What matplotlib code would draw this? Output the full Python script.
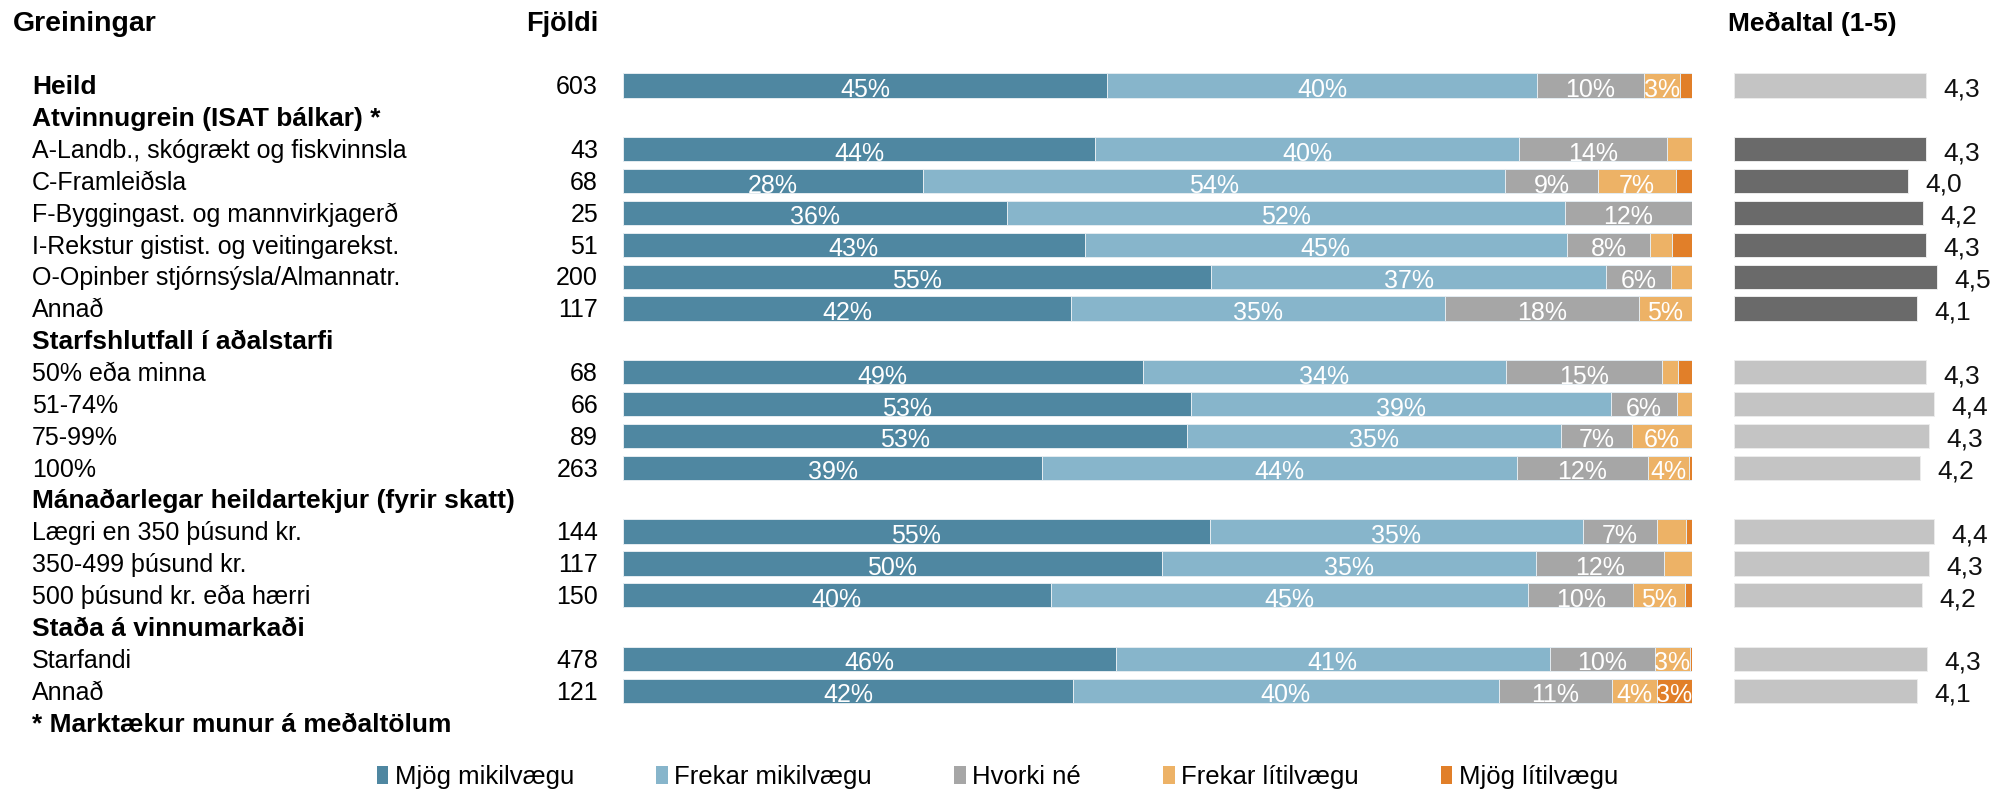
import numpy as np
import matplotlib
matplotlib.use("Agg")
import matplotlib.pyplot as plt
from matplotlib.patches import Patch
from matplotlib.transforms import blended_transform_factory

plt.rcParams["font.family"] = ["Liberation Sans", "DejaVu Sans"]

''' Data '''
row_labels = [
    "Heild",
    "Atvinnugrein (ISAT bálkar) *",
    "A-Landb., skógrækt og fiskvinnsla",
    "C-Framleiðsla",
    "F-Byggingast. og mannvirkjagerð",
    "I-Rekstur gistist. og veitingarekst.",
    "O-Opinber stjórnsýsla/Almannatr.",
    "Annað",
    "Starfshlutfall í aðalstarfi",
    "50% eða minna",
    "51-74%",
    "75-99%",
    "100%",
    "Mánaðarlegar heildartekjur (fyrir skatt)",
    "Lægri en 350 þúsund kr.",
    "350-499 þúsund kr.",
    "500 þúsund kr. eða hærri",
    "Staða á vinnumarkaði",
    "Starfandi",
    "Annað",
    "* Marktækur munur á meðaltölum",
]
bold_rows = [0, 1, 8, 13, 17, 20]

fjoldi = [603, None, 43, 68, 25, 51, 200, 117, None, 68, 66, 89, 263,
          None, 144, 117, 150, None, 478, 121, None]

mjog_mikil = [45.3, None, 44.2, 28.1, 35.9, 43.2, 55.0, 41.9, None, 48.6, 53.1, 52.8, 39.2,
              None, 54.9, 50.4, 40.0, None, 46.1, 42.1, None]
frekar_mikil = [40.2, None, 39.6, 54.4, 52.2, 45.1, 37.0, 35.0, None, 34.0, 39.3, 34.9, 44.4,
                None, 34.9, 35.0, 44.7, None, 40.6, 39.8, None]
hvorki = [10.0, None, 13.9, 8.7, 11.9, 7.8, 6.0, 18.1, None, 14.6, 6.2, 6.7, 12.3,
          None, 6.9, 12.0, 9.8, None, 9.8, 10.6, None]
frekar_litil = [3.4, None, 2.3, 7.3, 0.0, 2.0, 2.0, 5.0, None, 1.5, 1.4, 5.6, 3.8,
                None, 2.7, 2.6, 4.8, None, 3.3, 4.2, None]
mjog_litil = [1.1, None, 0.0, 1.5, 0.0, 1.9, 0.0, 0.0, None, 1.3, 0.0, 0.0, 0.3,
              None, 0.6, 0.0, 0.7, None, 0.2, 3.3, None]

medaltal = [4.30, None, 4.30, 3.99, 4.24, 4.30, 4.49, 4.14, None, 4.30, 4.44, 4.34, 4.19,
            None, 4.44, 4.34, 4.22, None, 4.32, 4.14, None]
# rows in the group with a significant difference get the dark mean bar
marktaekt = [2, 3, 4, 5, 6, 7]

flokkar = ["Mjög mikilvægu", "Frekar mikilvægu", "Hvorki né", "Frekar lítilvægu", "Mjög lítilvægu"]
litir = ["#4f87a1", "#87b5cb", "#a6a6a6", "#edb266", "#e17f29"]

''' Layout '''
W, H = 1995, 795
fig = plt.figure(figsize=(W / 100, H / 100), dpi=100)

n_rows = len(row_labels)
row0, row_last = 85.5, 722.7
step = (row_last - row0) / (n_rows - 1)
y_top = row0 - step / 2
y_bot = row_last + step / 2
ax_bottom = 1 - y_bot / H
ax_height = (y_bot - y_top) / H

ax = fig.add_axes([623 / W, ax_bottom, 1069 / W, ax_height])
ax_m = fig.add_axes([1734 / W, ax_bottom, 233 / W, ax_height])
for a in (ax, ax_m):
    a.set_ylim(n_rows - 0.5, -0.5)
    a.axis("off")
ax.set_xlim(0, 100)
ax_m.set_xlim(1, 5)

bar_h = 0.76
# baseline offsets (in rows) so the caps sit centred on the bars
lab_off = 8.8 / step
pct_off = 11.5 / step
mean_off = 10.8 / step

''' Stacked bars '''
series = [mjog_mikil, frekar_mikil, hvorki, frekar_litil, mjog_litil]
for i in range(n_rows):
    if series[0][i] is None:
        continue
    left = 0.0
    for vals, col in zip(series, litir):
        v = vals[i]
        if v > 0:
            ax.barh(i, v, left=left, height=bar_h, color=col,
                    edgecolor="#e4ecf1", linewidth=0.7)
            if v >= 3:
                ax.text(left + v / 2, i + pct_off, f"{v:.0f}%", ha="center", va="baseline",
                        color="white", fontsize=18)
        left += v

''' Mean bars '''
for i in range(n_rows):
    m = medaltal[i]
    if m is None:
        continue
    col = "#6a6a6a" if i in marktaekt else "#c4c4c4"
    ax_m.barh(i, m - 1, left=1, height=bar_h, color=col, edgecolor="#ececec", linewidth=0.7)
    ax_m.text(m + 0.3, i + mean_off, f"{m:.1f}".replace(".", ","), ha="left", va="baseline",
              fontsize=19, color="#111111")

''' Row labels and counts '''
trans = blended_transform_factory(fig.transFigure, ax.transData)
for i, lab in enumerate(row_labels):
    bold = i in bold_rows
    ax.text(32 / W, i + lab_off, lab, transform=trans, ha="left", va="baseline",
            fontsize=19 if bold else 18, fontweight="bold" if bold else "normal",
            color="black")
    if fjoldi[i] is not None:
        ax.text(598 / W, i + lab_off, str(fjoldi[i]), transform=trans, ha="right",
                va="baseline", fontsize=18, color="black")

''' Column headers '''
fig.text(13 / W, 1 - 31 / H, "Greiningar", ha="left", va="baseline", fontsize=20.5,
         fontweight="bold")
fig.text(598 / W, 1 - 31 / H, "Fjöldi", ha="right", va="baseline", fontsize=19.5,
         fontweight="bold")
fig.text(1728 / W, 1 - 31 / H, "Meðaltal (1-5)", ha="left", va="baseline", fontsize=19,
         fontweight="bold")

''' Legend '''
handles = [Patch(facecolor=c, edgecolor="none", label=l) for c, l in zip(litir, flokkar)]
fig.legend(handles=handles, loc="center", bbox_to_anchor=(0.5, 1 - 777 / H), ncol=5,
           frameon=False, fontsize=18.5, handlelength=0.45, handleheight=0.75,
           handletextpad=0.25, columnspacing=3.2)

fig.savefig("out.png", dpi=100)
